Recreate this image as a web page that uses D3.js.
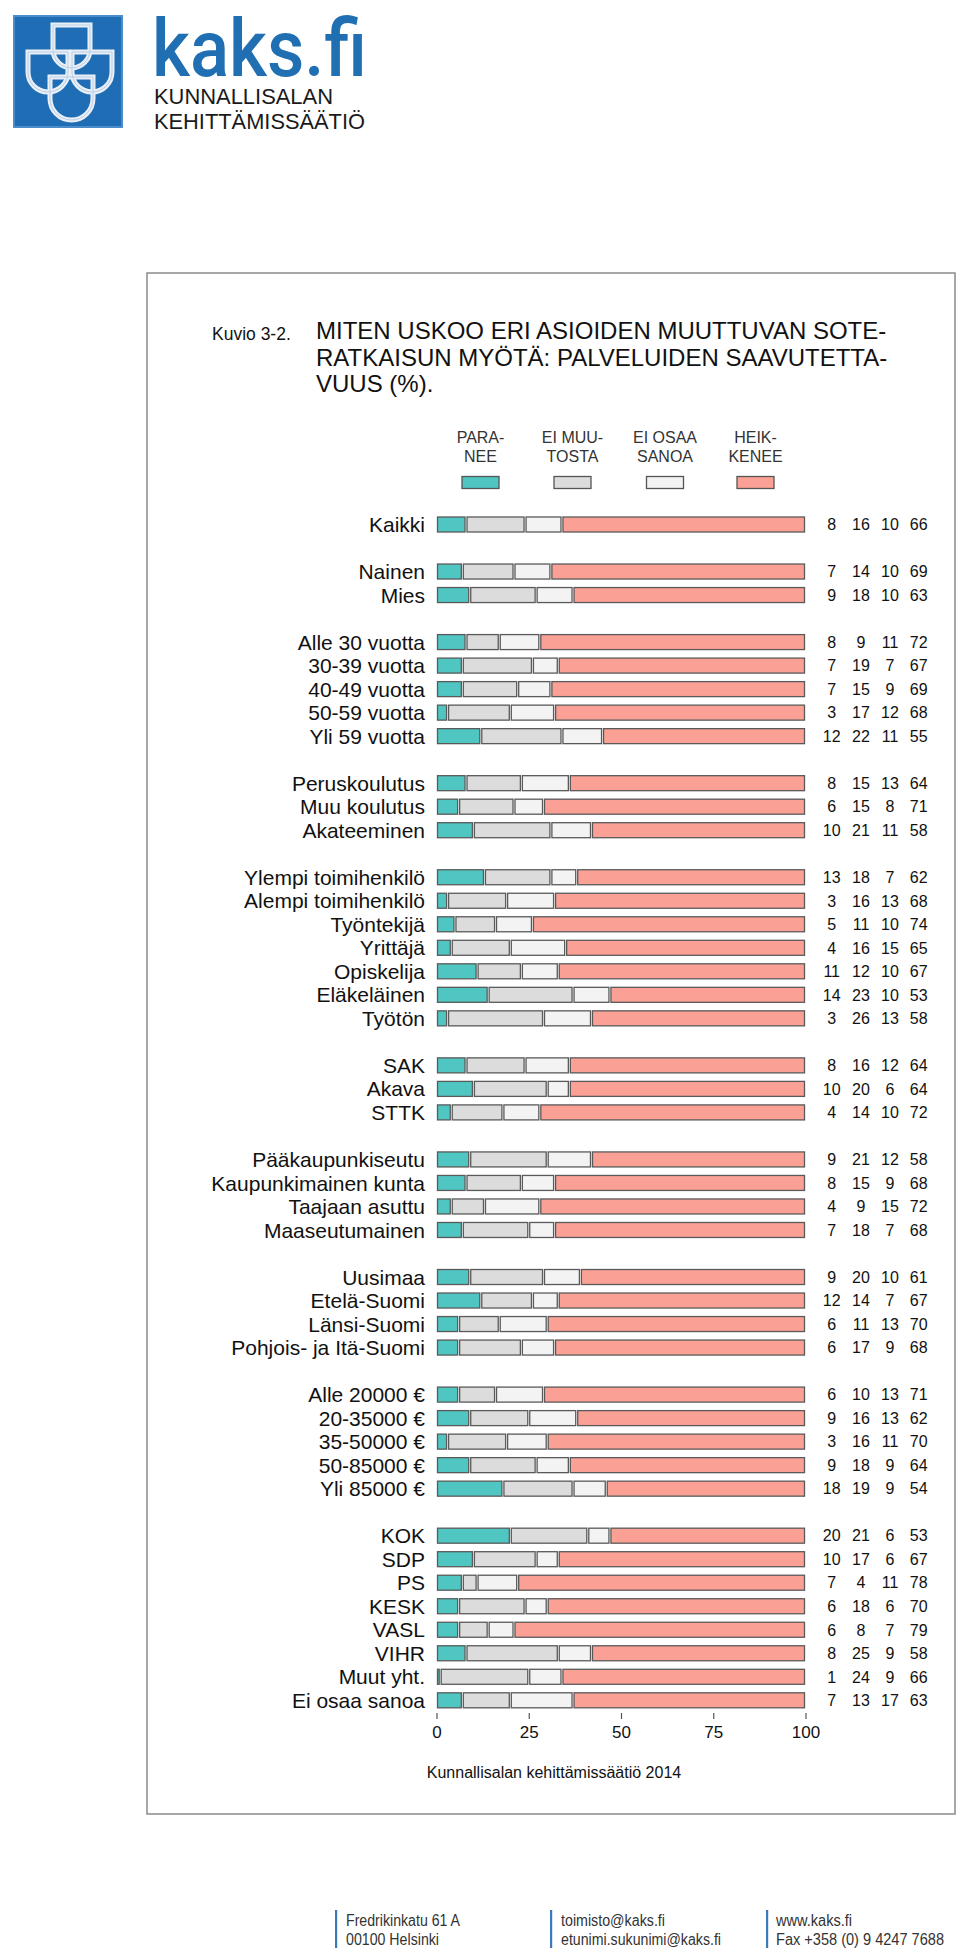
<!DOCTYPE html>
<html><head><meta charset="utf-8">
<script src="https://cdn.jsdelivr.net/npm/d3@7"></script>
<style>
html,body{margin:0;padding:0;background:#fff;}
svg{display:block;font-family:"Liberation Sans",Arial,sans-serif;}
</style></head>
<body>
<svg id="chart" width="960" height="1957"></svg>
<script>
// ---------- data ----------
const categories = [
  ["Kaikki"],
  ["Nainen","Mies"],
  ["Alle 30 vuotta","30-39 vuotta","40-49 vuotta","50-59 vuotta","Yli 59 vuotta"],
  ["Peruskoulutus","Muu koulutus","Akateeminen"],
  ["Ylempi toimihenkilö","Alempi toimihenkilö","Työntekijä","Yrittäjä","Opiskelija","Eläkeläinen","Työtön"],
  ["SAK","Akava","STTK"],
  ["Pääkaupunkiseutu","Kaupunkimainen kunta","Taajaan asuttu","Maaseutumainen"],
  ["Uusimaa","Etelä-Suomi","Länsi-Suomi","Pohjois- ja Itä-Suomi"],
  ["Alle 20000 €","20-35000 €","35-50000 €","50-85000 €","Yli 85000 €"],
  ["KOK","SDP","PS","KESK","VASL","VIHR","Muut yht.","Ei osaa sanoa"]
];
const paranee    = [8, 7,9, 8,7,7,3,12, 8,6,10, 13,3,5,4,11,14,3, 8,10,4, 9,8,4,7, 9,12,6,6, 6,9,3,9,18, 20,10,7,6,6,8,1,7];
const eiMuutosta = [16, 14,18, 9,19,15,17,22, 15,15,21, 18,16,11,16,12,23,26, 16,20,14, 21,15,9,18, 20,14,11,17, 10,16,16,18,19, 21,17,4,18,8,25,24,13];
const eiOsaa     = [10, 10,10, 11,7,9,12,11, 13,8,11, 7,13,10,15,10,10,13, 12,6,10, 12,9,15,7, 10,7,13,9, 13,13,11,9,9, 6,6,11,6,7,9,9,17];
const heikkenee  = [66, 69,63, 72,67,69,68,55, 64,71,58, 62,68,74,65,67,53,58, 64,64,72, 58,68,72,68, 61,67,70,68, 71,62,70,64,54, 53,67,78,70,79,58,66,63];
const seriesNames = [["PARA-","NEE"],["EI MUU-","TOSTA"],["EI OSAA","SANOA"],["HEIK-","KENEE"]];
const seriesColors = ["#4fc6c1","#dcdcdc","#f3f3f3","#fba095"];
const xTicks = [0,25,50,75,100];
const titleLines = ["MITEN USKOO ERI ASIOIDEN MUUTTUVAN SOTE-","RATKAISUN MYÖTÄ: PALVELUIDEN SAAVUTETTA-","VUUS (%)."];

// ---------- build rows (with blank slot between groups) ----------
const rows = [];
let slot = 0, idx = 0;
categories.forEach((g, gi) => {
  if (gi > 0) slot++;
  g.forEach(name => {
    rows.push({name, slot, vals:[paranee[idx], eiMuutosta[idx], eiOsaa[idx], heikkenee[idx]]});
    idx++; slot++;
  });
});
const nSlots = slot;

const svg = d3.select("#chart");

// ---------- logo ----------
const logo = svg.append("g");
logo.append("rect").attr("x",13).attr("y",15).attr("width",110).attr("height",113).attr("fill","#1f6db4");
logo.append("rect").attr("x",14).attr("y",16).attr("width",108).attr("height",111).attr("fill","none")
  .attr("stroke","#4b8ccb").attr("stroke-width",2);
function shield(x,y,w,h){
  const r=w/2;
  return `M${x},${y}H${x+w}V${y+h-r}A${r},${r} 0 0 1 ${x},${y+h-r}Z`;
}
const shields = [[53,25,37,43],[28,52,40,40],[72,52,40,40],[50,77,43,43]];
shields.forEach(s=>{
  logo.append("path").attr("d",shield(...s)).attr("fill","none").attr("stroke","#e9eff7").attr("stroke-width",5);
});
shields.forEach(s=>{
  logo.append("path").attr("d",shield(...s)).attr("fill","none").attr("stroke","#b9cde6").attr("stroke-width",1);
});
logo.append("text").attr("x",152).attr("y",76).attr("font-size",80).attr("fill","#1f6fb2")
  .attr("font-family","Roboto, Liberation Sans, sans-serif").attr("font-weight",500)
  .attr("textLength",215).attr("lengthAdjust","spacingAndGlyphs").text("kaks.fi");
logo.append("text").attr("x",154).attr("y",104).attr("font-size",22).attr("fill","#1a1a1a")
  .attr("textLength",179).attr("lengthAdjust","spacingAndGlyphs").text("KUNNALLISALAN");
logo.append("text").attr("x",154).attr("y",129).attr("font-size",22).attr("fill","#1a1a1a")
  .attr("textLength",211).attr("lengthAdjust","spacingAndGlyphs").text("KEHITTÄMISSÄÄTIÖ");

// ---------- frame ----------
svg.append("rect").attr("x",147).attr("y",273).attr("width",808).attr("height",1541)
  .attr("fill","none").attr("stroke","#8a8a8a").attr("stroke-width",1.5);

// ---------- title ----------
svg.append("text").attr("x",212).attr("y",340).attr("font-size",17.5).attr("fill","#111").text("Kuvio 3-2.");
svg.append("g").selectAll("text").data(titleLines).join("text")
  .attr("x",316).attr("y",(d,i)=>339+i*26.5).attr("font-size",24).attr("fill","#111").text(d=>d);

// ---------- scales ----------
const x = d3.scaleLinear().domain([0,100]).range([436.5,805.5]);
const y = d3.scalePoint().domain(d3.range(nSlots)).range([524.5,1700.3]);
const barH = 15;

// ---------- legend ----------
const legendX = [480.5,572.5,665,755.5];
const lg = svg.append("g");
seriesNames.forEach((nm,i)=>{
  lg.append("text").attr("x",legendX[i]).attr("y",443).attr("text-anchor","middle")
    .attr("font-size",16).attr("fill","#333").text(nm[0]);
  lg.append("text").attr("x",legendX[i]).attr("y",462).attr("text-anchor","middle")
    .attr("font-size",16).attr("fill","#333").text(nm[1]);
  lg.append("rect").attr("x",legendX[i]-18.5).attr("y",476.5).attr("width",37).attr("height",12)
    .attr("fill",seriesColors[i]).attr("stroke","#555").attr("stroke-width",1.3);
});

// ---------- bars ----------
const rowG = svg.append("g").selectAll("g").data(rows).join("g")
  .attr("transform",d=>`translate(0,${y(d.slot)})`);

rowG.append("text").attr("x",425).attr("y",0).attr("dy","0.36em").attr("text-anchor","end")
  .attr("font-size",21).attr("fill","#111").text(d=>d.name);

rowG.each(function(d){
  const g = d3.select(this);
  let cum = 0;
  d.vals.forEach((v,i)=>{
    const x0 = x(cum), x1 = x(cum+v);
    cum += v;
    g.append("rect").attr("x",x0+1).attr("y",-barH/2).attr("width",Math.max(0.5,x1-x0-2)).attr("height",barH)
      .attr("fill",seriesColors[i]).attr("stroke","#5a5a5a").attr("stroke-width",1.3);
  });
});

const numX = [831.7,861,890,918.7];
rowG.each(function(d){
  d3.select(this).selectAll("text.num").data(d.vals).join("text").attr("class","num")
    .attr("x",(v,i)=>numX[i]).attr("y",0).attr("dy","0.36em").attr("text-anchor","middle")
    .attr("font-size",16).attr("fill","#111").text(v=>v);
});

// ---------- axis ----------
const axis = svg.append("g").attr("transform","translate(0,1713)")
  .call(d3.axisBottom(x).tickValues(xTicks).tickSize(6).tickPadding(7));
axis.select(".domain").remove();
axis.selectAll("line").attr("stroke","#555").attr("stroke-width",1.2);
axis.selectAll("text").attr("font-size",17).attr("fill","#111").attr("font-family","Liberation Sans, Arial, sans-serif");

// ---------- source ----------
svg.append("text").attr("x",554).attr("y",1778).attr("text-anchor","middle").attr("font-size",16)
  .attr("fill","#111").text("Kunnallisalan kehittämissäätiö 2014");

// ---------- footer ----------
const footer = [
  {bx:336, tx:346, lines:["Fredrikinkatu 61 A","00100 Helsinki"], w:[114,93]},
  {bx:551, tx:561, lines:["toimisto@kaks.fi","etunimi.sukunimi@kaks.fi"], w:[104,160]},
  {bx:767, tx:776, lines:["www.kaks.fi","Fax +358 (0) 9 4247 7688"], w:[76,168]}
];
const fg = svg.append("g");
footer.forEach(f=>{
  fg.append("rect").attr("x",f.bx-1).attr("y",1910).attr("width",2.2).attr("height",38).attr("fill","#3a78b8");
  f.lines.forEach((t,i)=>{
    fg.append("text").attr("x",f.tx).attr("y",1926+i*19).attr("font-size",16).attr("fill","#333")
      .attr("textLength",f.w[i]).attr("lengthAdjust","spacingAndGlyphs").text(t);
  });
});
</script>
</body></html>
